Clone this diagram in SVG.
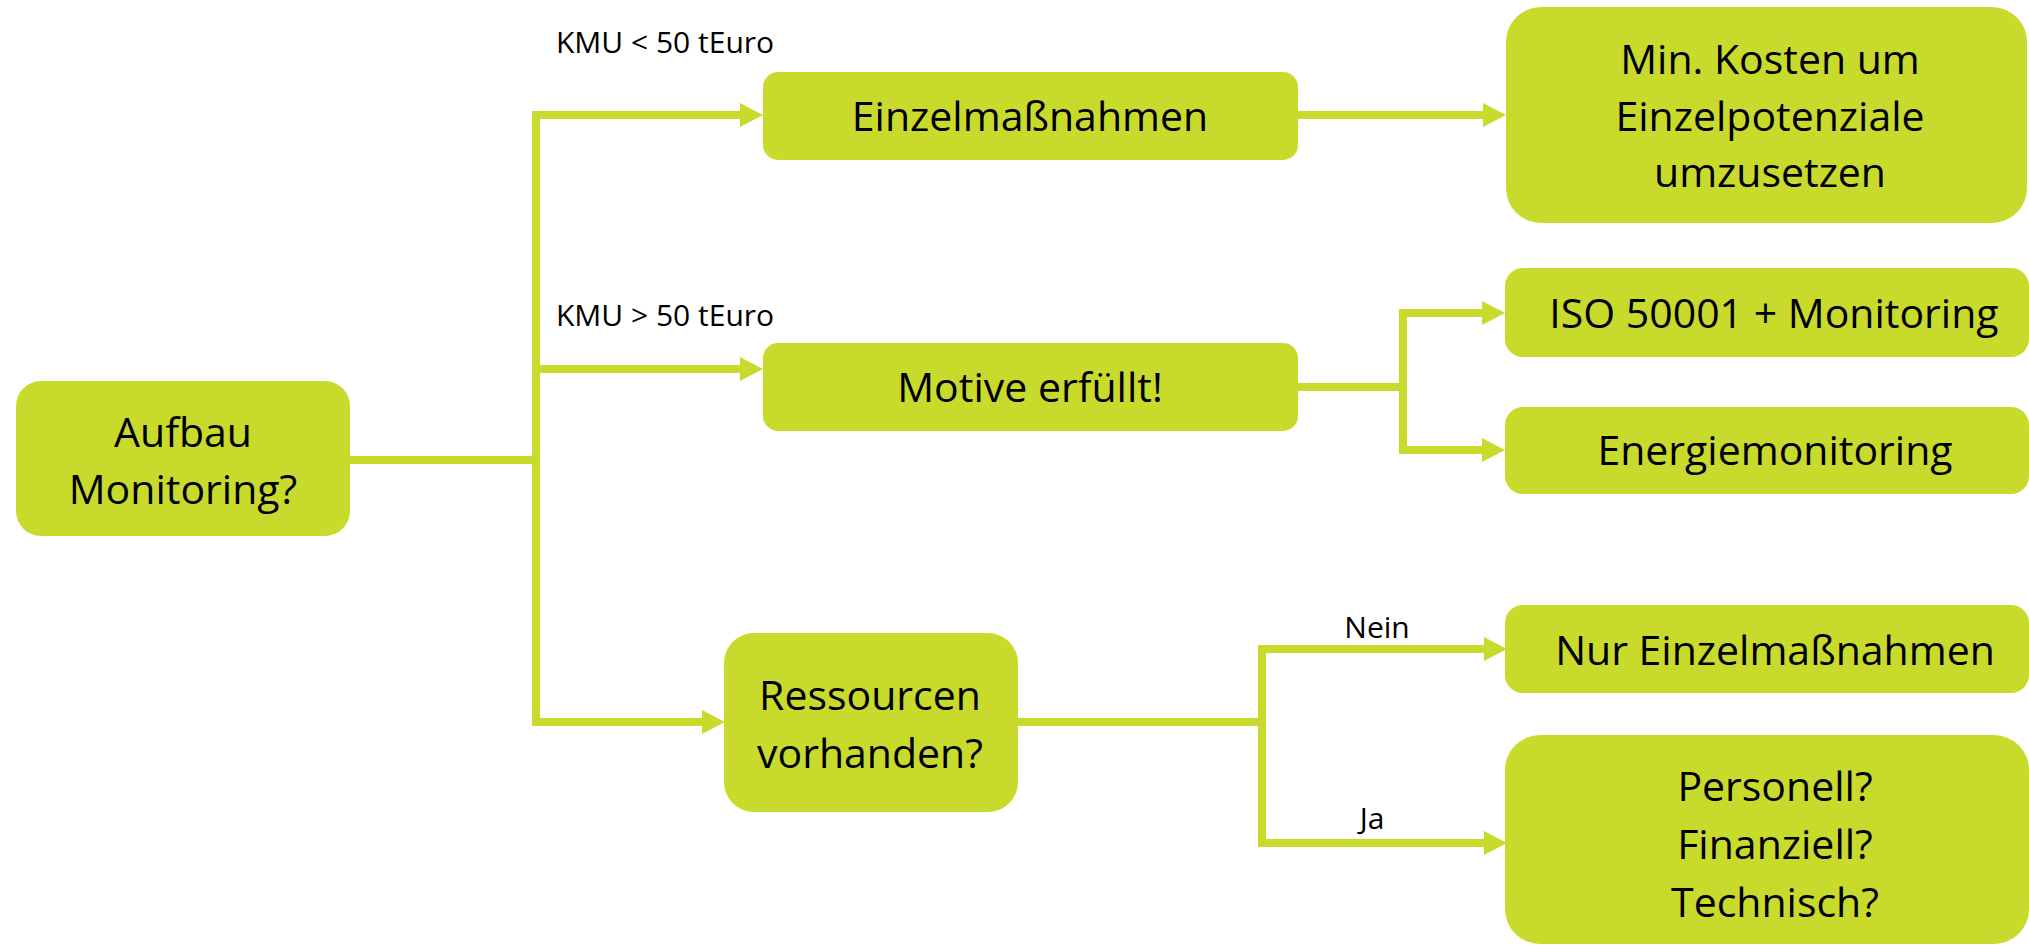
<svg xmlns="http://www.w3.org/2000/svg" width="2029" height="946" viewBox="0 0 2029 946">
<style>
.box{fill:#C8DB2C}
.t{font-family:"Open Sans","Noto Sans",sans-serif;font-size:41px;fill:#000;text-anchor:middle}
.s{font-family:"Open Sans","Noto Sans",sans-serif;font-size:30px;fill:#000}
.c{fill:none;stroke:#C8DB2C;stroke-width:8;stroke-linejoin:miter;stroke-linecap:butt}
</style>
<defs>
<marker id="ah" markerUnits="userSpaceOnUse" markerWidth="23" markerHeight="24" refX="3" refY="12" orient="auto" viewBox="0 0 23 24">
<path d="M0,0 L23,12 L0,24 Z" fill="#C8DB2C"/>
</marker>
</defs>
<rect width="2029" height="946" fill="#fff"/>
<g id="connectors">
<path class="c" d="M350,460 H536"/>
<path class="c" d="M536,464 V115 H743" marker-end="url(#ah)"/>
<path class="c" d="M536,369 H743" marker-end="url(#ah)"/>
<path class="c" d="M536,456 V722 H705" marker-end="url(#ah)"/>
<path class="c" d="M1298,115 H1486" marker-end="url(#ah)"/>
<path class="c" d="M1298,387 H1403"/>
<path class="c" d="M1403,391 V313 H1485" marker-end="url(#ah)"/>
<path class="c" d="M1403,383 V450 H1485" marker-end="url(#ah)"/>
<path class="c" d="M1018,722 H1262"/>
<path class="c" d="M1262,726 V649 H1487" marker-end="url(#ah)"/>
<path class="c" d="M1262,718 V843 H1487" marker-end="url(#ah)"/>
<text class="s" x="556" y="53">KMU &lt; 50 tEuro</text>
<text class="s" x="556" y="326">KMU &gt; 50 tEuro</text>
<text class="s" x="1377" y="638" text-anchor="middle">Nein</text>
<text class="s" x="1372" y="829" text-anchor="middle">Ja</text>
</g>
<g id="aufbau">
<rect class="box" x="16" y="381" width="334" height="155" rx="25"/>
<text class="t" x="183" y="447">Aufbau</text>
<text class="t" x="183" y="504">Monitoring?</text>
</g>
<g id="einzelmassnahmen">
<rect class="box" x="763" y="72" width="535" height="88" rx="15"/>
<text class="t" x="1030" y="131">Einzelmaßnahmen</text>
</g>
<g id="minkosten">
<rect class="box" x="1506" y="7" width="521" height="216" rx="35"/>
<text class="t" x="1770" y="74">Min. Kosten um</text>
<text class="t" x="1770" y="131">Einzelpotenziale</text>
<text class="t" x="1770" y="187">umzusetzen</text>
</g>
<g id="motive">
<rect class="box" x="763" y="343" width="535" height="88" rx="15"/>
<text class="t" x="1030" y="402">Motive erfüllt!</text>
</g>
<g id="iso">
<rect class="box" x="1505" y="268" width="524" height="89" rx="18"/>
<text class="t" x="1774" y="328">ISO 50001 + Monitoring</text>
</g>
<g id="energiemonitoring">
<rect class="box" x="1505" y="407" width="524" height="87" rx="18"/>
<text class="t" x="1775" y="465">Energiemonitoring</text>
</g>
<g id="ressourcen">
<rect class="box" x="724" y="633" width="294" height="179" rx="30"/>
<text class="t" x="870" y="710">Ressourcen</text>
<text class="t" x="870" y="768">vorhanden?</text>
</g>
<g id="nur">
<rect class="box" x="1505" y="605" width="524" height="88" rx="18"/>
<text class="t" x="1775" y="665">Nur Einzelmaßnahmen</text>
</g>
<g id="personell">
<rect class="box" x="1505" y="735" width="524" height="209" rx="35"/>
<text class="t" x="1775" y="801">Personell?</text>
<text class="t" x="1775" y="859">Finanziell?</text>
<text class="t" x="1775" y="917">Technisch?</text>
</g>
</svg>
